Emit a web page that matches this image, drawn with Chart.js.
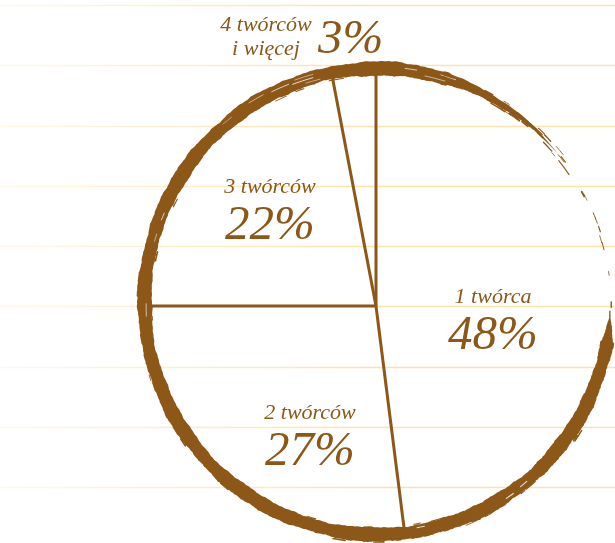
<!DOCTYPE html>
<html>
<head>
<meta charset="utf-8">
<script src="https://cdn.jsdelivr.net/npm/chart.js@4"></script>
<style>
  html, body { margin: 0; padding: 0; background: #fff; }
  canvas { display: block; }
</style>
</head>
<body>
<canvas id="pie" width="615" height="543"></canvas>
<script>
// share of works by number of creators
var categories = ['1 twórca', '2 twórców', '3 twórców', '4 twórców\ni więcej'];
var shares = [48, 27, 22, 3];
var shareLabels = ['48%', '27%', '22%', '3%'];

var brown = '#8c5717';
var nameFont = 'italic 22px "Liberation Serif", serif';
var pctFont = 'italic 49px "Liberation Serif", serif';

// where each caption sits, relative to the pie centre (pct baseline)
var labelSpots = [
  { dx: 117, dy: 43 },
  { dx: -66, dy: 159 },
  { dx: -106, dy: -67 },
  { dx: -110, dy: -275, outside: true }
];

function hash(n) {
  var s = Math.sin(n * 127.1 + 311.7) * 43758.5453;
  return s - Math.floor(s);
}
function wave(t, seed) {
  return Math.sin(t * 0.21 + seed) * 0.5 +
         Math.sin(t * 0.93 + seed * 2.1) * 0.3 +
         Math.sin(t * 3.7 + seed * 3.3) * 0.2;
}
// deg is measured clockwise from 12 o'clock
function ringRadius(R, deg) {
  var t = deg * Math.PI / 180;
  return R + 5 + 4.5 * Math.cos(t) + 1.5 * Math.sin(t);
}
function pt(cx, cy, r, deg) {
  var t = deg * Math.PI / 180;
  return [cx + r * Math.sin(t), cy - r * Math.cos(t)];
}
function toChartAngle(deg) {
  return (deg - 90) * Math.PI / 180;
}
// brush thickness: starts at the right, runs round, fades out past the top
function bandWidth(d) {
  if (d < 92) return 0;
  if (d < 99) return (d - 92) / 7 * 11;
  if (d < 378) return 13.5 + 1.8 * wave(d, 1);
  if (d < 410) return Math.max(0, (410 - d) / 32 * 11);
  return 0;
}

function strokeArc(ctx, cx, cy, r, d0, d1, lw, color) {
  ctx.beginPath();
  ctx.arc(cx, cy, r, toChartAngle(d0), toChartAngle(d1));
  ctx.lineWidth = lw;
  ctx.strokeStyle = color;
  ctx.lineCap = 'round';
  ctx.stroke();
}

var paper = {
  id: 'paper',
  beforeDraw: function (chart) {
    var ctx = chart.ctx, w = chart.width;
    ctx.save();
    ctx.fillStyle = '#fff';
    ctx.fillRect(0, 0, w, chart.height);
    var grad = ctx.createLinearGradient(0, 0, 360, 0);
    grad.addColorStop(0, 'rgba(251,228,170,0.25)');
    grad.addColorStop(1, 'rgba(251,228,170,1)');
    ctx.strokeStyle = grad;
    ctx.lineWidth = 1.5;
    for (var y = 5; y < chart.height; y += 60.25) {
      ctx.beginPath();
      ctx.moveTo(0, Math.round(y) + 0.5);
      ctx.lineTo(w, Math.round(y) + 0.5);
      ctx.stroke();
    }
    ctx.restore();
  }
};

var brushPie = {
  id: 'brushPie',
  afterDatasetsDraw: function (chart) {
    var ctx = chart.ctx;
    var arcs = chart.getDatasetMeta(0).data;
    var cx = arcs[0].x, cy = arcs[0].y, R = arcs[0].outerRadius;
    ctx.save();

    // slice dividers
    ctx.strokeStyle = brown;
    ctx.lineWidth = 3;
    ctx.lineCap = 'butt';
    arcs.forEach(function (arc) {
      var deg = arc.startAngle * 180 / Math.PI + 90;
      var p = pt(cx, cy, ringRadius(R, deg) - 2, deg);
      ctx.beginPath();
      ctx.moveTo(cx, cy);
      ctx.lineTo(p[0], p[1]);
      ctx.stroke();
    });

    // main brush band
    var outer = [], inner = [];
    for (var d = 92; d <= 410; d += 0.5) {
      var w = bandWidth(d);
      var k = Math.min(1, w / 5);
      var rc = ringRadius(R, d);
      outer.push(pt(cx, cy, rc + w / 2 + 0.8 * k * wave(d * 1.7, 4), d));
      inner.push(pt(cx, cy, rc - w / 2 + 0.8 * k * wave(d * 1.7, 9), d));
    }
    ctx.beginPath();
    ctx.moveTo(outer[0][0], outer[0][1]);
    outer.forEach(function (p) { ctx.lineTo(p[0], p[1]); });
    for (var i = inner.length - 1; i >= 0; i--) ctx.lineTo(inner[i][0], inner[i][1]);
    ctx.closePath();
    ctx.fillStyle = brown;
    ctx.fill();

    // dry-brush scratches inside the band
    for (var s = 0; s < 16; s++) {
      var d0 = 110 + hash(s) * 280;
      var bw = bandWidth(d0);
      if (bw < 9) continue;
      var off = (hash(s + 200) - 0.5) * bw * 0.6;
      strokeArc(ctx, cx, cy, ringRadius(R, d0) + off, d0, d0 + 1.5 + hash(s + 100) * 4,
        0.5 + hash(s + 300) * 0.7, 'rgba(255,255,255,0.8)');
    }
    // flecks along the edges
    for (var f = 0; f < 24; f++) {
      var d1 = 100 + hash(f + 500) * 300;
      var bw1 = bandWidth(d1);
      if (bw1 < 4) continue;
      var side = hash(f + 600) < 0.5 ? -1 : 1;
      var off1 = side * (bw1 / 2 + 0.2 + hash(f + 700) * 1.0);
      strokeArc(ctx, cx, cy, ringRadius(R, d1) + off1, d1, d1 + 1 + hash(f + 800) * 3,
        0.8 + hash(f + 900) * 1.2, brown);
    }
    // dry streaks where the brush runs out
    for (var g = 0; g < 26; g++) {
      var d2 = 374 + g * 1.5 + hash(g + 1100) * 1.5;
      var off2 = (hash(g + 1200) - 0.5) * 8;
      strokeArc(ctx, cx, cy, ringRadius(R, d2) + off2, d2, d2 + 1 + hash(g + 1300) * 3.5,
        0.8 + hash(g + 1400) * 2.4 * (1 - g / 30), brown);
    }
    // broken fragments on the right
    for (var h = 0; h < 22; h++) {
      if (hash(h + 1500) < 0.3) continue;
      var d3 = 50 + h * 1.95 + hash(h + 1600) * 1.2;
      var off3 = (hash(h + 1700) - 0.5) * 4;
      strokeArc(ctx, cx, cy, ringRadius(R, d3) + off3, d3, d3 + 0.5 + hash(h + 1800) * 1.6,
        0.7 + hash(h + 1900) * 1.6, brown);
    }
    ctx.restore();
  },
  afterDraw: function (chart) {
    var ctx = chart.ctx;
    var arcs = chart.getDatasetMeta(0).data;
    var cx = arcs[0].x, cy = arcs[0].y;
    ctx.save();
    ctx.fillStyle = brown;
    ctx.textBaseline = 'alphabetic';
    labelSpots.forEach(function (spot, i) {
      var lines = categories[i].split('\n');
      var x = cx + spot.dx, y = cy + spot.dy;
      ctx.font = nameFont;
      ctx.textAlign = 'center';
      if (spot.outside) {
        ctx.fillText(lines[0], x, y);
        ctx.fillText(lines[1], x, y + 24);
        ctx.font = pctFont;
        ctx.textAlign = 'left';
        ctx.fillText(shareLabels[i], x + 52, y + 22);
      } else {
        ctx.fillText(lines[0], x, y - 46);
        ctx.font = pctFont;
        ctx.fillText(shareLabels[i], x, y);
      }
    });
    ctx.restore();
  }
};

new Chart(document.getElementById('pie'), {
  type: 'pie',
  data: {
    labels: categories,
    datasets: [{
      data: shares,
      backgroundColor: 'rgba(0,0,0,0)',
      borderWidth: 0
    }]
  },
  options: {
    responsive: false,
    animation: false,
    events: [],
    layout: { padding: { top: 78, bottom: 9, left: 148, right: 11 } },
    plugins: { legend: { display: false }, tooltip: { enabled: false } }
  },
  plugins: [paper, brushPie]
});
</script>
</body>
</html>
